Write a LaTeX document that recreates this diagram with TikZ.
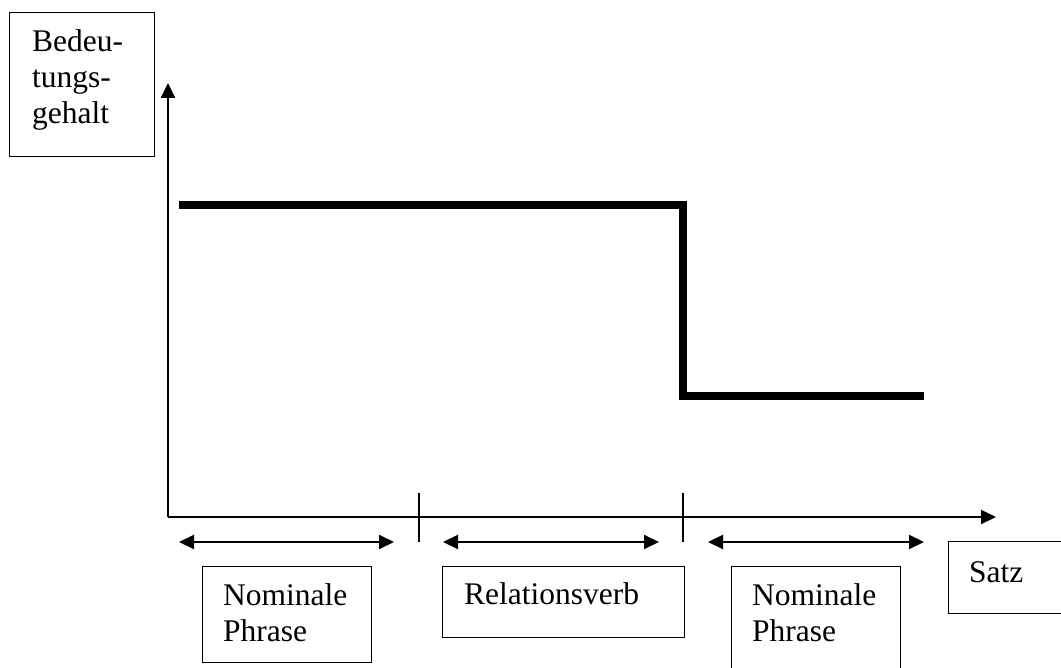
\documentclass[tikz,border=0pt]{standalone}
\usepackage{fontspec}
\setmainfont{Liberation Serif}
\usetikzlibrary{arrows.meta,positioning}

\begin{document}
\begin{tikzpicture}[
    x = 1pt, y = -1pt, % pixel grid, y grows downwards
    font = \fontsize{31.5}{36}\selectfont,
    > = {Triangle[length=15pt,width=14pt]}, % arrow head style
    axis/.style = {line width=2pt},
    span/.style = {<->, line width=2pt},
    level/.style = {line width=8pt, line join=miter},
    tickmark/.style = {line width=1.5pt}
    ]

    \tikzset{box/.style={
    draw = black,
    line width = 1.3pt,
    rectangle,
    inner sep = 0pt,
    anchor = north west
    }}
    \tikzset{txt/.style={anchor=base west, inner sep=0pt}}

    \useasboundingbox (0,0) rectangle (1061,668);

    % axes
    \coordinate (o) at (168,517);
    \coordinate (ytip) at (168,83);
    \coordinate (xtip) at (996,517);
    \draw[axis,->] (o) -- (ytip);
    \draw[axis,->] (o) -- (xtip);

    % boundaries between the parts of the sentence
    \coordinate (t1a) at (419,493);
    \coordinate (t1b) at (419,542);
    \coordinate (t2a) at (683,493);
    \coordinate (t2b) at (683,542);
    \draw[tickmark] (t1a) -- (t1b);
    \draw[tickmark] (t2a) -- (t2b);

    % extent of each part
    \coordinate (r1a) at (179,542);
    \coordinate (r1b) at (394,542);
    \coordinate (r2a) at (443,542);
    \coordinate (r2b) at (659,542);
    \coordinate (r3a) at (708,542);
    \coordinate (r3b) at (924,542);
    \draw[span] (r1a) -- (r1b);
    \draw[span] (r2a) -- (r2b);
    \draw[span] (r3a) -- (r3b);

    % meaning content
    \coordinate (h1) at (179,205);
    \coordinate (h2) at (683,205);
    \coordinate (l1) at (683,396.5);
    \coordinate (l2) at (924,396.5);
    \draw[level] (h1) -- (h2) -- (l1) -- (l2);

    % labels
    \node[box, minimum width=145pt, minimum height=144pt] (ybox) at (9,12) {};
    \node[txt] (ytext) at ([xshift=23pt,yshift=-40pt]ybox.north west)
        {\begin{tabular}[t]{@{}l@{}}Bedeu-\\tungs-\\gehalt\end{tabular}};

    \node[box, minimum width=169pt, minimum height=96pt] (np1) at (202,566) {};
    \node[txt] (np1text) at ([xshift=21pt,yshift=-39pt]np1.north west)
        {\begin{tabular}[t]{@{}l@{}}Nominale\\Phrase\end{tabular}};

    \node[box, minimum width=242pt, minimum height=71pt] (rv) at (442,566) {};
    \node[txt] (rvtext) at ([xshift=22pt,yshift=-38pt]rv.north west) {Relationsverb};

    \node[box, minimum width=169pt, minimum height=106pt] (np2) at (731,566) {};
    \node[txt] (np2text) at ([xshift=21pt,yshift=-39pt]np2.north west)
        {\begin{tabular}[t]{@{}l@{}}Nominale\\Phrase\end{tabular}};

    \node[box, minimum width=120pt, minimum height=72pt] (satz) at (948,541) {};
    \node[txt] (satztext) at ([xshift=21pt,yshift=-41pt]satz.north west) {Satz};
\end{tikzpicture}
\end{document}
